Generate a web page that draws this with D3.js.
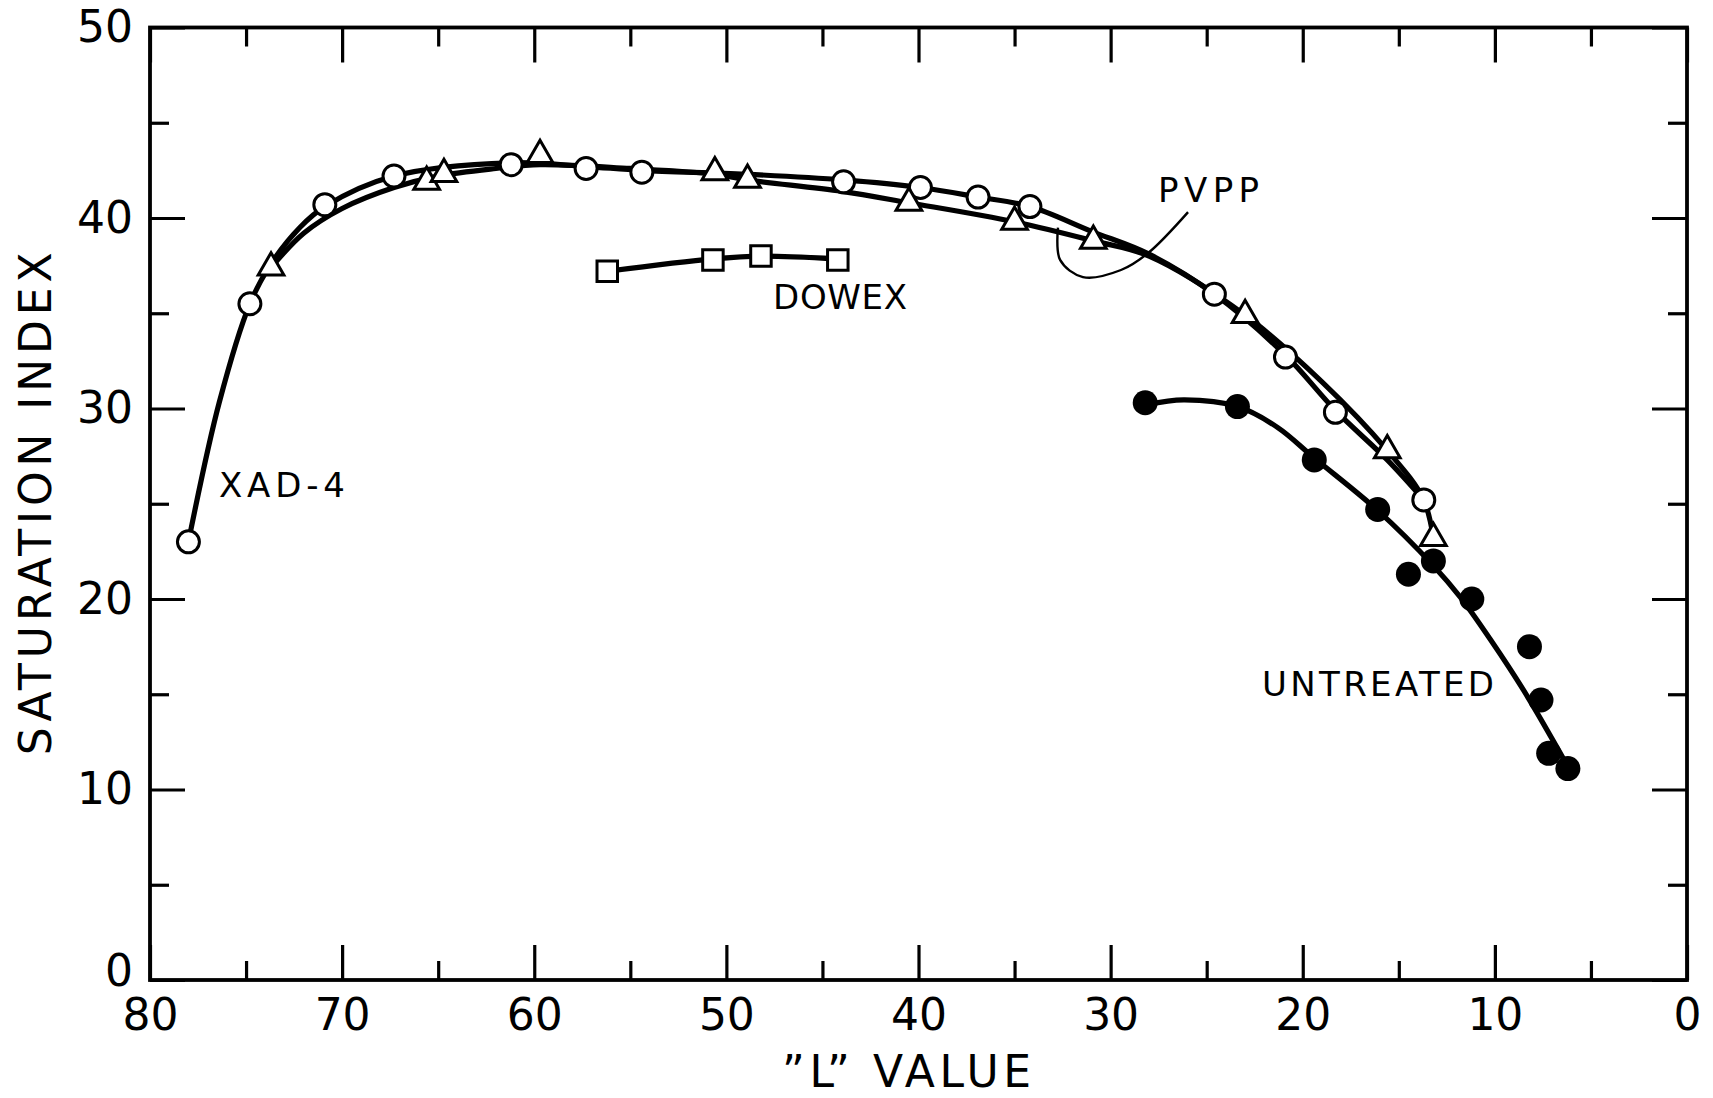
<!DOCTYPE html>
<html>
<head>
<meta charset="utf-8">
<script src="https://cdn.jsdelivr.net/npm/d3@7"></script>
<style>
  html, body { margin: 0; padding: 0; background: #fff; }
  svg { display: block; }
  text { font-family: "DejaVu Sans", sans-serif; fill: #000; }
</style>
</head>
<body>
<svg id="chart" width="1713" height="1098"></svg>
<script>
// ---------- data ----------
const xMajorTicks = [80, 70, 60, 50, 40, 30, 20, 10, 0];
const xMinorTicks = [75, 65, 55, 45, 35, 25, 15, 5];
const yMajorTicks = [0, 10, 20, 30, 40, 50];
const yMinorTicks = [5, 15, 25, 35, 45];

// XAD-4 (open circles)
const xadL = [78.0, 74.8, 70.9, 67.3, 61.2, 57.3, 54.4, 43.9, 39.9, 36.9, 34.2, 24.6, 20.9, 18.3, 13.7];
const xadS = [23.0, 35.5, 40.7, 42.2, 42.8, 42.6, 42.4, 41.9, 41.6, 41.1, 40.6, 36.0, 32.7, 29.8, 25.2];
// PVPP (open triangles)
const pvppL = [73.7, 65.6, 64.7, 59.7, 50.6, 48.9, 40.5, 35.0, 30.9, 23.0, 15.6, 13.2];
const pvppS = [37.4, 41.9, 42.3, 43.3, 42.4, 42.0, 40.8, 39.8, 38.8, 34.9, 27.8, 23.2];
// DOWEX (open squares)
const dowexL = [56.2, 50.7, 48.2, 44.2];
const dowexS = [37.2, 37.8, 38.0, 37.8];
// UNTREATED (filled circles)
const untrL = [28.2, 23.4, 19.4, 16.1, 14.5, 13.2, 11.2, 8.2, 7.6, 7.2, 6.2];
const untrS = [30.3, 30.1, 27.3, 24.7, 21.3, 22.0, 20.0, 17.5, 14.7, 11.9, 11.1];

// drawn fitted curves (knots)
const xadFitL = [78.0, 76.4, 74.8, 73.7, 72.2, 70.9, 67.3, 61.2, 57.3, 54.4, 49.0, 43.9, 39.9, 36.9, 34.2, 31.0, 28.0, 24.6, 20.9, 18.3, 15.6, 13.7];
const xadFitS = [23.0, 30.3, 35.5, 37.6, 39.5, 40.6, 42.2, 42.9, 42.7, 42.5, 42.3, 42.0, 41.6, 41.1, 40.6, 39.3, 38.1, 36.0, 32.8, 29.9, 27.3, 25.2];
const pvppFitL = [73.7, 72.0, 70.0, 67.3, 65.0, 62.0, 59.7, 55.0, 50.6, 48.9, 44.0, 40.5, 35.0, 30.9, 28.0, 23.0, 19.0, 15.6, 13.75, 13.2];
const pvppFitS = [37.4, 39.2, 40.5, 41.6, 42.2, 42.6, 42.8, 42.6, 42.3, 42.0, 41.4, 40.8, 39.8, 38.8, 38.0, 34.9, 31.4, 27.8, 25.3, 23.2];
const dowexFitL = [56.2, 50.7, 48.2, 44.2];
const dowexFitS = [37.2, 37.85, 38.0, 37.85];
const untrFitL = [28.1, 26.2, 23.4, 21.3, 19.4, 16.1, 13.2, 11.8, 10.25, 8.5, 6.2];
const untrFitS = [30.2, 30.45, 30.1, 29.0, 27.4, 24.65, 21.75, 20.1, 17.9, 15.2, 11.2];

// PVPP leader line (data coords)
const leaderL = [25.97, 28.05, 29.46, 31.44, 32.63, 32.74];
const leaderS = [40.31, 38.16, 37.27, 36.90, 37.80, 39.50];

// series labels: [text, L, S (baseline), textLength]
const seriesLabels = [
  ["XAD-4", 76.41, 25.35, 126],
  ["DOWEX", 47.57, 35.22, 134],
  ["PVPP", 27.53, 40.84, 101],
  ["UNTREATED", 22.12, 14.91, 232]
];
const xTitle = "\u201DL\u201D  VALUE";
const yTitle = "SATURATION INDEX";

// ---------- layout ----------
const W = 1713, H = 1098;
const margin = { left: 150, right: 26, top: 27.5, bottom: 118 };
const iw = W - margin.left - margin.right;
const ih = H - margin.top - margin.bottom;

const svg = d3.select("#chart");
const g = svg.append("g").attr("transform", `translate(${margin.left},${margin.top})`);

const x = d3.scaleLinear().domain([80, 0]).range([0, iw]);
const y = d3.scaleLinear().domain([0, 50]).range([ih, 0]);

const MAJ = 35, MIN = 19;

function styleAxis(sel) {
  sel.select(".domain").remove();
  sel.selectAll(".tick line").attr("stroke", "#000").attr("stroke-width", 3.2);
  sel.selectAll(".tick text").style("font-size", "44px").style("font-family", '"DejaVu Sans", sans-serif').attr("fill", "#000");
}

// bottom axis (major with labels)
g.append("g").attr("transform", `translate(0,${ih})`)
  .call(d3.axisBottom(x).tickValues(xMajorTicks).tickSize(-MAJ).tickSizeOuter(0).tickPadding(19).tickFormat(d3.format("d")))
  .call(styleAxis);
g.append("g").attr("transform", `translate(0,${ih})`)
  .call(d3.axisBottom(x).tickValues(xMinorTicks).tickSize(-MIN).tickSizeOuter(0).tickFormat(""))
  .call(styleAxis);
// top axis
g.append("g")
  .call(d3.axisTop(x).tickValues(xMajorTicks).tickSize(-MAJ).tickSizeOuter(0).tickFormat(""))
  .call(styleAxis);
g.append("g")
  .call(d3.axisTop(x).tickValues(xMinorTicks).tickSize(-MIN).tickSizeOuter(0).tickFormat(""))
  .call(styleAxis);
// left axis
const yl = g.append("g")
  .call(d3.axisLeft(y).tickValues(yMajorTicks).tickSize(-MAJ).tickSizeOuter(0).tickPadding(17).tickFormat(d3.format("d")))
  .call(styleAxis);
yl.selectAll(".tick text").filter(d => d === 0).attr("dy", "0.12em");
g.append("g")
  .call(d3.axisLeft(y).tickValues(yMinorTicks).tickSize(-MIN).tickSizeOuter(0).tickFormat(""))
  .call(styleAxis);
// right axis
g.append("g").attr("transform", `translate(${iw},0)`)
  .call(d3.axisRight(y).tickValues(yMajorTicks).tickSize(-MAJ).tickSizeOuter(0).tickFormat(""))
  .call(styleAxis);
g.append("g").attr("transform", `translate(${iw},0)`)
  .call(d3.axisRight(y).tickValues(yMinorTicks).tickSize(-MIN).tickSizeOuter(0).tickFormat(""))
  .call(styleAxis);

// frame
g.append("rect").attr("x", 0).attr("y", 0).attr("width", iw).attr("height", ih)
  .attr("fill", "none").attr("stroke", "#000").attr("stroke-width", 3.8);

// axis titles
svg.append("text")
  .attr("transform", `translate(51,${margin.top + ih / 2}) rotate(-90)`)
  .attr("text-anchor", "middle")
  .attr("textLength", 503).attr("lengthAdjust", "spacing")
  .style("font-size", "44px")
  .text(yTitle);
svg.append("text")
  .attr("x", margin.left + iw / 2 - 12).attr("y", 1087)
  .attr("text-anchor", "middle")
  .attr("textLength", 249).attr("lengthAdjust", "spacing")
  .style("font-size", "44px")
  .text(xTitle);

// curves
const zip = (a, b) => a.map((v, i) => [v, b[i]]);
const line = d3.line().x(d => x(d[0])).y(d => y(d[1])).curve(d3.curveCatmullRom.alpha(0.5));

const curves = [
  [xadFitL, xadFitS],
  [pvppFitL, pvppFitS],
  [dowexFitL, dowexFitS],
  [untrFitL, untrFitS]
];
g.append("g").selectAll("path").data(curves).join("path")
  .attr("d", d => line(zip(d[0], d[1])))
  .attr("fill", "none").attr("stroke", "#000").attr("stroke-width", 5.2)
  .attr("stroke-linecap", "round").attr("stroke-linejoin", "round");

// PVPP leader
g.append("path")
  .attr("d", line(zip(leaderL, leaderS)))
  .attr("fill", "none").attr("stroke", "#000").attr("stroke-width", 2.4);

// markers
const mk = g.append("g");
mk.selectAll("circle.xad").data(zip(xadL, xadS)).join("circle")
  .attr("class", "xad")
  .attr("cx", d => x(d[0])).attr("cy", d => y(d[1])).attr("r", 11)
  .attr("fill", "#fff").attr("stroke", "#000").attr("stroke-width", 3);

const tri = d3.symbol().type(d3.symbolTriangle).size(285);
mk.selectAll("path.pvpp").data(zip(pvppL, pvppS)).join("path")
  .attr("class", "pvpp")
  .attr("transform", d => `translate(${x(d[0])},${y(d[1])})`)
  .attr("d", tri)
  .attr("fill", "#fff").attr("stroke", "#000").attr("stroke-width", 3).attr("stroke-linejoin", "miter");

const sq = d3.symbol().type(d3.symbolSquare).size(420);
mk.selectAll("path.dowex").data(zip(dowexL, dowexS)).join("path")
  .attr("class", "dowex")
  .attr("transform", d => `translate(${x(d[0])},${y(d[1])})`)
  .attr("d", sq)
  .attr("fill", "#fff").attr("stroke", "#000").attr("stroke-width", 3);

mk.selectAll("circle.untr").data(zip(untrL, untrS)).join("circle")
  .attr("class", "untr")
  .attr("cx", d => x(d[0])).attr("cy", d => y(d[1])).attr("r", 12.5)
  .attr("fill", "#000");

// series labels
g.append("g").selectAll("text").data(seriesLabels).join("text")
  .attr("x", d => x(d[1])).attr("y", d => y(d[2]))
  .attr("textLength", d => d[3]).attr("lengthAdjust", "spacing")
  .style("font-size", "34px")
  .text(d => d[0]);
</script>
</body>
</html>
